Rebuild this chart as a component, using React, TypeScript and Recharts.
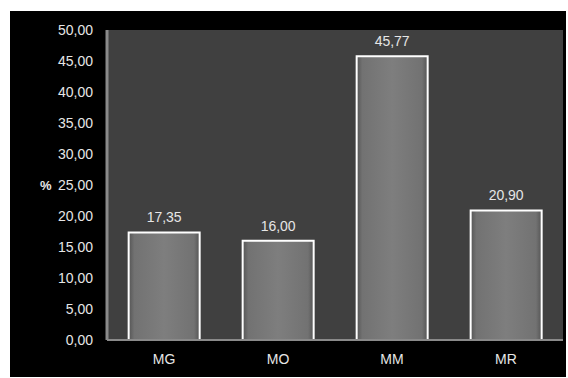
import React from 'react';
import { BarChart, Bar, XAxis, YAxis, CartesianGrid, LabelList } from 'recharts';

const categories = ['MG', 'MO', 'MM', 'MR'];
const values = [17.35, 16.0, 45.77, 20.9];
const yTicks = [0, 5, 10, 15, 20, 25, 30, 35, 40, 45, 50];

const data = categories.map((name, i) => ({ name, value: values[i] }));

const fmt = (v: number) => v.toFixed(2).replace('.', ',');

const FONT = '"Liberation Sans", Arial, sans-serif';

export default function App() {
  return (
    <div style={{ position: 'absolute', left: 0, top: 0, width: 568, height: 378, background: '#fff' }}>
      <div style={{ position: 'absolute', left: 10, top: 11, width: 556, height: 366, background: '#000' }}>
        <BarChart
          width={556}
          height={366}
          data={data}
          margin={{ top: 19, right: 3, bottom: 0, left: 0 }}
          barCategoryGap="19%"
          style={{ fontFamily: FONT }}
        >
          <defs>
            <linearGradient id="barFill" x1="0" y1="0" x2="1" y2="0">
              <stop offset="0%" stopColor="#555" />
              <stop offset="8%" stopColor="#727272" />
              <stop offset="50%" stopColor="#7e7e7e" />
              <stop offset="92%" stopColor="#727272" />
              <stop offset="100%" stopColor="#555" />
            </linearGradient>
          </defs>
          <CartesianGrid fill="#404040" stroke="none" horizontal={false} vertical={false} />
          <XAxis
            dataKey="name"
            height={37}
            axisLine={{ stroke: '#8a8a8a', strokeWidth: 2 }}
            tickLine={false}
            tickSize={0}
            tickMargin={14}
            tick={{ fill: '#e6e6e6', fontSize: 14 }}
          />
          <YAxis
            type="number"
            domain={[0, 50]}
            ticks={yTicks}
            width={97}
            interval={0}
            axisLine={{ stroke: '#8a8a8a', strokeWidth: 3 }}
            tickLine={false}
            tickSize={0}
            tickMargin={14}
            tickFormatter={fmt}
            tick={{ fill: '#e6e6e6', fontSize: 14 }}
            label={{ value: '%', position: 'insideLeft', offset: 30, fill: '#e6e6e6', fontSize: 13, fontWeight: 'bold' }}
          />
          <Bar dataKey="value" fill="url(#barFill)" stroke="#ffffff" strokeWidth={2} isAnimationActive={false}>
            <LabelList dataKey="value" position="top" offset={10} formatter={(v: any) => fmt(Number(v))} fill="#e6e6e6" fontSize={14} />
          </Bar>
        </BarChart>
      </div>
    </div>
  );
}
